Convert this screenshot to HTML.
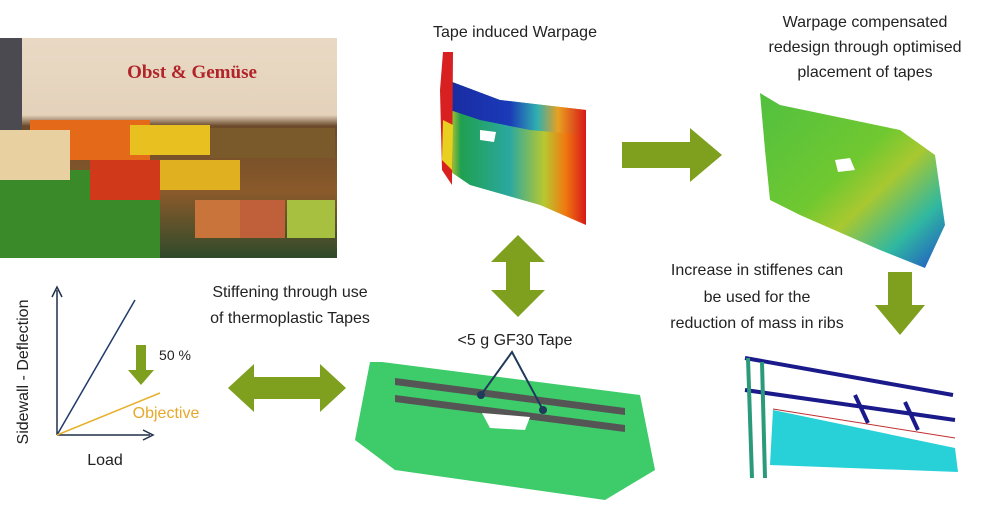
<!DOCTYPE html>
<html><head><meta charset="utf-8"><style>
html,body{margin:0;padding:0;background:#fff;}
svg{display:block;font-family:"Liberation Sans",sans-serif;}
</style></head><body>
<svg width="1000" height="505" viewBox="0 0 1000 505" xmlns="http://www.w3.org/2000/svg">
<defs>
<linearGradient id="w1" x1="0" y1="0" x2="1" y2="0">
<stop offset="0" stop-color="#e8d020"/><stop offset="0.1" stop-color="#20a050"/><stop offset="0.45" stop-color="#2aa8a0"/><stop offset="0.7" stop-color="#b8c830"/><stop offset="0.85" stop-color="#f07a10"/><stop offset="1" stop-color="#d81818"/></linearGradient>
<linearGradient id="w1t" x1="0" y1="0" x2="1" y2="0">
<stop offset="0" stop-color="#1a2aa0"/><stop offset="0.45" stop-color="#1a3ab8"/><stop offset="0.65" stop-color="#30b0b0"/><stop offset="0.8" stop-color="#e8a020"/><stop offset="1" stop-color="#d81818"/></linearGradient>
<linearGradient id="w2" x1="0" y1="0" x2="1" y2="1">
<stop offset="0" stop-color="#50c040"/><stop offset="0.45" stop-color="#70c830"/><stop offset="0.6" stop-color="#a8c830"/><stop offset="0.8" stop-color="#30b8a0"/><stop offset="1" stop-color="#2050c8"/></linearGradient>
<linearGradient id="shop" x1="0" y1="0" x2="0" y2="1">
<stop offset="0" stop-color="#e9d9c4"/><stop offset="0.35" stop-color="#e4d2bb"/><stop offset="0.4" stop-color="#6b4a2a"/><stop offset="0.7" stop-color="#8a5a2a"/><stop offset="1" stop-color="#2f4a2a"/></linearGradient>
</defs>
<!-- photo -->
<rect x="0" y="38" width="337" height="220" fill="url(#shop)"/>
<rect x="0" y="38" width="22" height="220" fill="#4a4a50"/>
<rect x="30" y="120" width="120" height="40" fill="#e46a1a"/>
<rect x="130" y="125" width="80" height="30" fill="#e8c020"/>
<rect x="210" y="128" width="125" height="30" fill="#7a5a2a"/>
<rect x="160" y="160" width="80" height="30" fill="#e0b020"/>
<rect x="195" y="200" width="45" height="38" fill="#c8743a"/>
<rect x="240" y="200" width="45" height="38" fill="#c0603a"/>
<rect x="287" y="200" width="48" height="38" fill="#a8c040"/>
<rect x="0" y="170" width="160" height="88" fill="#3a8a2a"/>
<rect x="90" y="160" width="70" height="40" fill="#d03a1a"/>
<rect x="0" y="130" width="70" height="50" fill="#e8d0a0"/>
<text x="192" y="78" font-family="Liberation Serif,serif" font-weight="bold" font-size="19" fill="#b0242a" text-anchor="middle">Obst &amp; Gemüse</text>
<!-- warpage 1 -->
<polygon points="447,80 500,100 586,110 586,225 540,205 470,185 448,170" fill="url(#w1)"/>
<polygon points="447,80 500,100 586,110 586,135 530,130 480,120 450,110" fill="url(#w1t)"/>
<polygon points="443,52 453,52 452,185 442,170 440,90" fill="#d82020"/>
<polygon points="443,120 453,125 452,170 442,160" fill="#e8d020"/>
<polygon points="480,130 496,132 494,142 480,140" fill="#fff"/>
<!-- warpage 2 -->
<polygon points="760,93 780,105 900,130 935,155 945,225 925,268 880,250 800,215 770,200 765,150" fill="url(#w2)"/>
<polygon points="835,160 850,158 855,170 838,172" fill="#fff"/>
<!-- tape crate -->
<polygon points="382,362 640,395 655,470 605,500 395,470 355,440 370,362" fill="#3ecb6a"/>
<polygon points="395,378 625,408 625,415 395,385" fill="#555"/>
<polygon points="395,395 625,425 625,432 395,402" fill="#555"/>
<polygon points="482,413 530,417 525,430 490,428" fill="#fff"/>
<g stroke="#1f3a5a" stroke-width="2" fill="none"><polyline points="481,395 512,352 543,410"/></g>
<circle cx="481" cy="395" r="4" fill="#1f3a5a"/><circle cx="543" cy="410" r="4" fill="#1f3a5a"/>
<!-- rib structure -->
<polygon points="773,410 955,448 958,472 770,465" fill="#28d0d8"/>
<g stroke="#1a1a8a" stroke-width="4" fill="none">
<line x1="745" y1="358" x2="953" y2="395"/><line x1="745" y1="390" x2="955" y2="420"/>
<line x1="855" y1="395" x2="868" y2="423"/><line x1="905" y1="402" x2="918" y2="430"/></g>
<g stroke="#2a9a7a" stroke-width="4"><line x1="748" y1="358" x2="752" y2="478"/><line x1="762" y1="362" x2="765" y2="478"/></g>
<line x1="773" y1="409" x2="955" y2="438" stroke="#c03030" stroke-width="1"/>
<!-- arrows -->
<g fill="#7f9f1f">
<polygon points="622,142 690,142 690,128 722,155 690,182 690,168 622,168"/>
<polygon points="518,235 545,262 530,262 530,290 545,290 518,317 491,290 506,290 506,262 491,262"/>
<polygon points="888,272 912,272 912,305 925,305 900,335 875,305 888,305"/>
<polygon points="228,388 254,364 254,377 320,377 320,364 346,388 320,412 320,399 254,399 254,412"/>
<polygon points="136,345 146,345 146,370 154,370 141,385 128,370 136,370"/>
</g>
<!-- graph -->
<g stroke="#1f3048" stroke-width="1.5" fill="none">
<line x1="57" y1="435" x2="57" y2="290"/><line x1="57" y1="435" x2="150" y2="435"/>
<polyline points="52,297 57,287 62,297"/><polyline points="143,430 153,435 143,440"/>
<line x1="57" y1="435" x2="135" y2="300" stroke="#1f3a6a"/>
</g>
<line x1="57" y1="435" x2="160" y2="393" stroke="#e6b02a" stroke-width="1.5"/>
<g font-size="16" fill="#222" text-anchor="middle">
<text x="515" y="37">Tape induced Warpage</text>
<text x="865" y="27">Warpage compensated</text>
<text x="865" y="52">redesign through optimised</text>
<text x="865" y="77">placement of tapes</text>
<text x="757" y="275">Increase in stiffenes can</text>
<text x="757" y="302">be used for the</text>
<text x="757" y="328">reduction of mass in ribs</text>
<text x="290" y="297">Stiffening through use</text>
<text x="290" y="323">of thermoplastic Tapes</text>
<text x="515" y="345">&lt;5 g GF30 Tape</text>
<text x="105" y="465">Load</text>
<text x="175" y="360" font-size="14">50 %</text>
<text x="166" y="418" fill="#e6a82a">Objective</text>
<text transform="translate(28,372) rotate(-90)">Sidewall - Deflection</text>
</g>
</svg>
</body></html>
